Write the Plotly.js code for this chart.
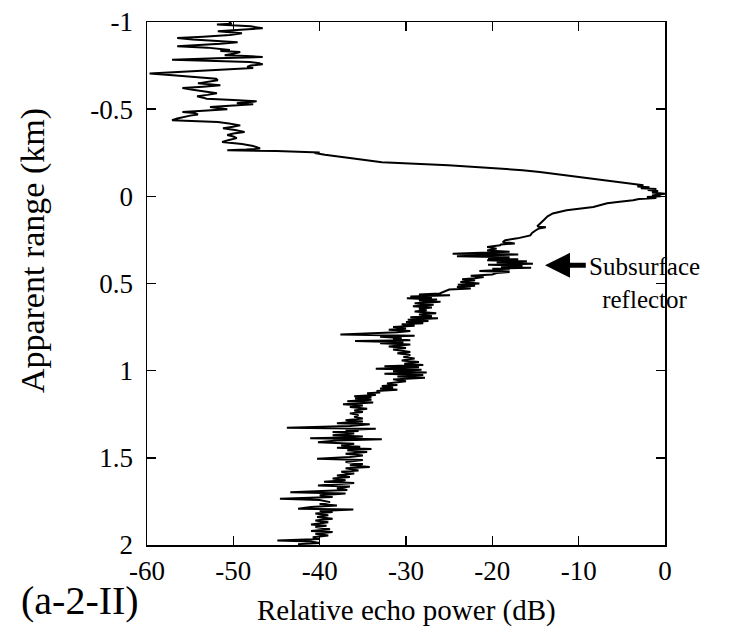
<!DOCTYPE html>
<html>
<head>
<meta charset="utf-8">
<script src="https://cdn.plot.ly/plotly-3.0.1.min.js"></script>
<style>html,body{margin:0;padding:0;background:#fff;}#chart{width:731px;height:634px;}</style>
</head>
<body>
<div id="chart"></div>
<script>
// Apparent range (km) and relative echo power (dB)
var rangeTop = [-1.000,-0.990,-0.985,-0.975,-0.964,-0.955,-0.947,-0.935,-0.925,-0.915,-0.908,-0.900,-0.890,-0.884,-0.875,-0.868,-0.861,-0.853,-0.849,-0.840,-0.834,-0.828,-0.818,-0.809,-0.805,-0.799,-0.792,-0.784,-0.778,-0.771,-0.764,-0.757,-0.750,-0.742,-0.736,-0.729,-0.718,-0.704,-0.695,-0.684,-0.675,-0.666,-0.657,-0.648,-0.642,-0.637,-0.629,-0.621,-0.612,-0.604,-0.597,-0.591,-0.582,-0.574,-0.566,-0.560,-0.552,-0.545,-0.538,-0.534,-0.528,-0.520,-0.512,-0.505,-0.499,-0.492,-0.484,-0.478,-0.470,-0.463,-0.455,-0.446,-0.436,-0.430,-0.426,-0.418,-0.407,-0.398,-0.390,-0.380,-0.369,-0.360,-0.352,-0.343,-0.334,-0.323,-0.312,-0.300,-0.289,-0.280,-0.274,-0.268,-0.264];
var powerTop = [-50.5,-50.2,-51.9,-48.0,-46.6,-50.2,-51.8,-49.0,-50.4,-53.5,-56.5,-54.7,-52.0,-49.5,-51.5,-53.8,-56.5,-53.0,-51.9,-50.4,-51.5,-49.2,-50.0,-51.0,-48.5,-46.6,-52.0,-57.1,-53.0,-48.1,-47.0,-46.6,-48.0,-48.4,-47.7,-50.5,-55.0,-59.7,-57.0,-53.5,-52.0,-51.8,-52.8,-54.1,-52.5,-51.5,-53.5,-55.9,-54.7,-53.5,-52.5,-51.9,-53.0,-54.2,-53.5,-53.1,-50.0,-47.3,-48.8,-49.6,-47.7,-50.5,-52.7,-51.6,-50.7,-53.0,-55.9,-54.5,-54.1,-55.0,-55.8,-56.5,-57.1,-53.5,-51.8,-50.5,-49.2,-50.2,-51.2,-49.8,-48.7,-50.0,-50.7,-50.0,-49.6,-50.5,-51.3,-49.0,-47.7,-47.2,-46.9,-48.5,-50.7];

var rangeRise = [-0.260,-0.257,-0.252,-0.249,-0.239,-0.218,-0.200,-0.195,-0.178,-0.161,-0.150,-0.140,-0.132,-0.120,-0.111,-0.095,-0.082,-0.070,-0.063,-0.057,-0.052,-0.047,-0.042,-0.036,-0.030,-0.022,-0.015];
var powerRise = [-45.0,-41.0,-40.0,-40.6,-39.4,-36.3,-33.6,-32.8,-25.1,-19.1,-16.5,-14.5,-13.3,-11.0,-9.8,-7.3,-5.2,-3.5,-2.5,-3.2,-1.8,-2.8,-1.0,-2.0,-0.8,-1.5,0.0];

var rangeMid = [-0.005,0.000,0.004,0.010,0.015,0.023,0.032,0.040,0.061,0.080,0.098,0.115,0.134,0.155,0.172,0.178,0.184,0.196,0.210,0.224,0.241,0.252,0.262,0.270,0.276,0.281,0.291,0.300,0.310,0.318,0.322,0.329,0.333,0.340,0.344,0.350,0.356,0.361,0.367,0.373,0.379,0.386,0.392,0.398,0.404,0.409,0.415,0.420,0.428,0.434,0.440,0.448,0.455,0.463,0.470,0.476,0.482,0.492,0.500,0.507,0.513,0.520,0.528,0.535,0.545,0.557];
var powerMid = [-1.5,-0.5,-2.1,-1.0,-3.0,-3.7,-5.5,-6.7,-8.3,-11.4,-13.0,-13.6,-14.0,-14.5,-14.8,-13.8,-14.6,-15.0,-15.4,-15.6,-17.1,-18.5,-18.8,-17.4,-19.0,-19.1,-20.6,-19.5,-20.6,-18.0,-21.5,-24.6,-17.0,-22.0,-24.1,-18.0,-20.5,-17.0,-20.6,-16.0,-19.5,-15.3,-20.5,-16.5,-19.0,-15.5,-20.0,-18.0,-21.5,-18.0,-19.5,-20.0,-22.5,-21.0,-22.0,-23.5,-22.0,-23.7,-21.5,-24.0,-22.0,-24.1,-22.5,-25.0,-25.5,-26.1];

var rangeDeep = [0.563,0.568,0.575,0.580,0.585,0.592,0.597,0.605,0.614,0.622,0.630,0.638,0.645,0.654,0.660,0.671,0.678,0.688,0.694,0.700,0.708,0.715,0.721,0.728,0.734,0.742,0.750,0.758,0.765,0.772,0.780,0.793,0.800,0.806,0.813,0.820,0.826,0.830,0.837,0.843,0.850,0.861,0.870,0.878,0.893,0.900,0.910,0.922,0.930,0.941,0.950,0.960,0.967,0.974,0.980,0.989,0.995,1.004,1.010,1.017,1.025,1.033,1.040,1.050,1.061,1.073,1.082,1.088,1.096,1.102,1.110,1.116,1.125,1.130,1.139,1.147,1.153,1.159,1.167,1.175,1.183,1.193,1.200,1.209,1.218,1.228,1.237,1.245,1.255,1.265,1.274,1.285,1.292,1.301,1.308,1.318,1.327,1.333,1.340,1.346,1.352,1.360,1.371,1.378,1.384,1.388,1.394,1.400,1.410,1.419,1.429,1.436,1.442,1.450,1.457,1.467,1.476,1.486,1.495,1.505,1.512,1.524,1.535,1.543,1.552,1.560,1.572,1.580,1.590,1.601,1.610,1.618,1.629,1.637,1.644,1.652,1.658,1.665,1.675,1.685,1.697,1.705,1.715,1.725,1.734,1.742,1.754,1.765,1.773,1.782,1.792,1.797,1.805,1.811,1.820,1.830,1.840,1.850,1.860,1.869,1.882,1.890,1.897,1.910,1.920,1.926,1.935,1.945,1.955,1.965,1.974,1.980,1.988,1.995,2.000];
var powerDeep = [-28.5,-24.9,-29.5,-27.0,-29.9,-26.4,-28.5,-26.0,-29.0,-26.8,-29.2,-27.0,-28.5,-27.6,-29.0,-26.5,-28.5,-27.0,-29.5,-26.3,-29.8,-27.4,-30.0,-28.0,-30.5,-29.0,-31.5,-30.0,-32.0,-29.5,-31.0,-37.6,-29.0,-33.0,-30.5,-31.5,-29.5,-35.9,-30.3,-33.0,-29.5,-32.0,-30.0,-31.5,-29.5,-31.0,-29.5,-30.3,-29.0,-30.5,-28.5,-30.2,-28.0,-32.5,-28.5,-33.5,-28.2,-31.5,-27.6,-32.5,-28.0,-31.0,-27.8,-31.5,-30.0,-32.2,-31.0,-32.8,-31.5,-33.0,-31.0,-33.4,-33.0,-34.5,-33.5,-36.0,-34.0,-35.9,-34.0,-36.8,-33.8,-37.3,-35.0,-36.5,-34.5,-36.0,-35.0,-36.5,-35.5,-36.0,-35.0,-37.0,-35.0,-38.0,-34.2,-36.5,-43.8,-33.5,-37.0,-35.5,-38.5,-36.0,-38.5,-35.0,-37.0,-41.1,-32.8,-38.0,-40.2,-36.0,-37.5,-35.3,-38.0,-34.0,-36.8,-34.5,-37.0,-35.0,-36.5,-40.3,-35.0,-37.0,-35.0,-36.5,-34.2,-37.0,-35.5,-37.5,-36.0,-38.0,-36.5,-38.5,-37.0,-39.5,-36.0,-38.5,-40.2,-36.5,-38.0,-36.8,-43.4,-37.0,-40.0,-38.5,-44.6,-40.0,-38.8,-40.0,-38.0,-41.0,-42.5,-36.1,-40.0,-38.5,-40.5,-39.0,-40.3,-38.5,-40.5,-39.0,-41.0,-39.2,-40.5,-38.8,-41.0,-38.5,-40.5,-39.0,-40.8,-40.0,-44.9,-41.0,-40.0,-42.5,-42.0];

var xTickVals = [-60,-50,-40,-30,-20,-10,0];
var xTickText = ["-60","-50","-40","-30","-20","-10","0"];
var yTickVals = [-1,-0.5,0,0.5,1,1.5,2];
var yTickText = ["-1","-0.5","0","0.5","1","1.5","2"];

function pairUp(r, p, outR, outP) {
  var n = Math.min(r.length, p.length);
  for (var i = 0; i < n; i++) { outR.push(r[i]); outP.push(p[i]); }
}
var allRange = [], allPower = [];
pairUp(rangeTop, powerTop, allRange, allPower);
pairUp(rangeRise, powerRise, allRange, allPower);
pairUp(rangeMid, powerMid, allRange, allPower);
pairUp(rangeDeep, powerDeep, allRange, allPower);

var FONT = "Liberation Serif";

var trace = {
  x: allPower, y: allRange, type: 'scatter', mode: 'lines',
  line: {color: '#000', width: 2},
  cliponaxis: false, hoverinfo: 'skip'
};

var axisCommon = {
  ticks: 'inside', ticklen: 9, tickwidth: 1.5, tickcolor: '#000',
  mirror: 'ticks', showline: true, linewidth: 1.5, linecolor: '#000',
  showgrid: false, zeroline: false,
  tickfont: {family: FONT, size: 27, color: '#000'}
};

var layout = {
  width: 731, height: 634,
  margin: {l: 147, r: 66, t: 22, b: 89, pad: 0},
  paper_bgcolor: '#fff', plot_bgcolor: '#fff',
  showlegend: false,
  font: {family: FONT, color: '#000'},
  xaxis: Object.assign({}, axisCommon, {
    range: [-60, 0], autorange: false, tickmode: 'array',
    tickvals: xTickVals, ticktext: xTickText, ticklabelstandoff: 1
  }),
  yaxis: Object.assign({}, axisCommon, {
    range: [2, -1], autorange: false, tickmode: 'array',
    tickvals: yTickVals, ticktext: yTickText, ticklabelstandoff: 7
  }),
  annotations: [
    {text: 'Apparent range (km)', xref: 'paper', yref: 'paper', x: -0.22, y: 0.562,
     textangle: -90, showarrow: false, xanchor: 'center', yanchor: 'middle',
     font: {family: FONT, size: 34, color: '#000'}},
    {text: 'Relative echo power (dB)', xref: 'paper', yref: 'paper', x: 0.5, y: -0.126,
     showarrow: false, xanchor: 'center', yanchor: 'middle',
     font: {family: FONT, size: 29, color: '#000'}},
    {text: '(a-2-II)', xref: 'paper', yref: 'paper', x: -0.129, y: -0.107,
     showarrow: false, xanchor: 'center', yanchor: 'middle',
     font: {family: FONT, size: 40, color: '#000'}},
    {text: 'Subsurface<br>reflector', xref: 'paper', yref: 'paper', x: 0.961, y: 0.501,
     showarrow: false, xanchor: 'center', yanchor: 'middle', align: 'center',
     font: {family: FONT, size: 25, color: '#000'}},
    {text: '', xref: 'x', yref: 'y', x: -13.9, y: 0.396,
     axref: 'x', ayref: 'y', ax: -9.0, ay: 0.396,
     showarrow: true, arrowhead: 2, arrowsize: 1.0, arrowwidth: 5, arrowcolor: '#000'}
  ]
};

Plotly.newPlot('chart', [trace], layout, {staticPlot: true, displayModeBar: false});
</script>
</body>
</html>
